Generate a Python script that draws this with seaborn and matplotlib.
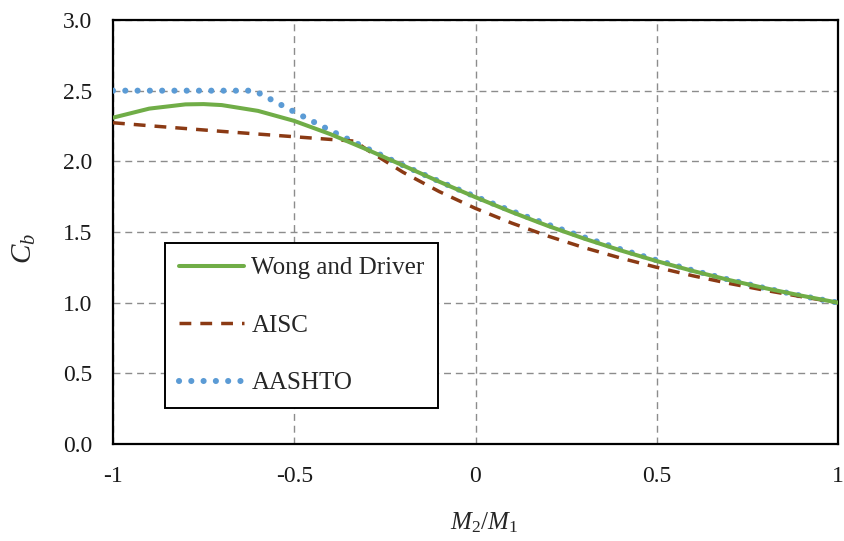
import matplotlib
matplotlib.use("Agg")
import matplotlib.pyplot as plt
import seaborn as sns
import pandas as pd

# Data
x_wong = [-1.0, -0.9, -0.8, -0.75, -0.7, -0.6, -0.5, -0.4, -0.3, -0.2, -0.1, 0.0,
          0.1, 0.2, 0.3, 0.4, 0.5, 0.6, 0.7, 0.8, 0.9, 1.0]
cb_wong = [2.309, 2.373, 2.403, 2.405, 2.398, 2.357, 2.286, 2.192, 2.084, 1.971, 1.856, 1.746,
           1.641, 1.543, 1.453, 1.370, 1.294, 1.224, 1.160, 1.102, 1.049, 1.000]

x_aisc = [-1.0, -0.9, -0.8, -0.7, -0.6, -0.5, -0.4, -0.333, -0.3, -0.2, -0.1, 0.0,
          0.1, 0.2, 0.3, 0.4, 0.5, 0.6, 0.7, 0.8, 0.9, 1.0]
cb_aisc = [2.273, 2.252, 2.232, 2.212, 2.193, 2.174, 2.155, 2.143, 2.083, 1.923, 1.786, 1.667,
           1.563, 1.471, 1.389, 1.316, 1.250, 1.190, 1.136, 1.087, 1.042, 1.000]

x_aashto = [-1.0, -0.9, -0.8, -0.7, -0.61, -0.5, -0.4, -0.3, -0.2, -0.1, 0.0,
            0.1, 0.2, 0.3, 0.4, 0.5, 0.6, 0.7, 0.8, 0.9, 1.0]
cb_aashto = [2.5, 2.5, 2.5, 2.5, 2.5, 2.35, 2.218, 2.092, 1.972, 1.858, 1.75,
             1.648, 1.552, 1.462, 1.378, 1.30, 1.228, 1.162, 1.102, 1.048, 1.0]

x_ticks = [-1, -0.5, 0, 0.5, 1]
x_ticklabels = ["-1", "-0.5", "0", "0.5", "1"]
y_ticks = [0.0, 0.5, 1.0, 1.5, 2.0, 2.5, 3.0]

sns.set_theme(style="white")
plt.rcParams['font.family'] = ['Liberation Serif', 'DejaVu Serif']
plt.rcParams['mathtext.fontset'] = 'custom'
plt.rcParams['mathtext.it'] = 'Liberation Serif:italic'
plt.rcParams['mathtext.rm'] = 'Liberation Serif'

fig = plt.figure(figsize=(8.44, 5.41), dpi=100)
ax = fig.add_axes([113 / 844, 1 - 444 / 541, (838 - 113) / 844, (444 - 20) / 541])

green = "#70AD47"
brown = "#8B3A14"
blue = "#5B9BD5"

df_w = pd.DataFrame({"x": x_wong, "y": cb_wong})
df_a = pd.DataFrame({"x": x_aisc, "y": cb_aisc})
df_h = pd.DataFrame({"x": x_aashto, "y": cb_aashto})

sns.lineplot(data=df_h, x="x", y="y", ax=ax, color=blue, lw=4.4, label="AASHTO",
             linestyle=(0, (0.01, 2.0)), dash_capstyle="round", zorder=3)
sns.lineplot(data=df_a, x="x", y="y", ax=ax, color=brown, lw=2.5, label="AISC",
             linestyle=(0, (3.4, 2.6)), zorder=4)
sns.lineplot(data=df_w, x="x", y="y", ax=ax, color=green, lw=2.9,
             label="Wong and Driver", zorder=5)

ax.set_xlim(-1, 1)
ax.set_ylim(0, 3)
ax.set_xticks(x_ticks)
ax.set_xticklabels(x_ticklabels)
ax.set_yticks(y_ticks)
ax.set_yticklabels([f"{v:.1f}" for v in y_ticks])
ax.tick_params(axis="both", length=0, labelsize=17, colors="#1a1a1a")
ax.tick_params(axis="x", pad=16)
ax.tick_params(axis="y", pad=15)

ax.grid(True, color="#8c8c8c", linestyle=(0, (5, 3.5)), linewidth=1.0)
for s in ax.spines.values():
    s.set_visible(True)
    s.set_color("black")
    s.set_linewidth(1.6)

ax.set_xlabel(r"$M_2/M_1$", fontsize=18)
ax.xaxis.set_label_coords((484 - 113) / (838 - 113), -(523 - 444) / (444 - 20))
ax.xaxis.label.set_verticalalignment("center")
ax.set_ylabel(r"$C_b$", fontsize=21)
ax.yaxis.set_label_coords(-(113 - 24) / (838 - 113), (444 - 248) / (444 - 20))
ax.yaxis.label.set_verticalalignment("center")

handles, labels = ax.get_legend_handles_labels()
order = [2, 1, 0]
leg = ax.legend([handles[i] for i in order], [labels[i] for i in order],
                loc="upper left", bbox_to_anchor=(165 / 844, 1 - 243 / 541),
                bbox_transform=fig.transFigure, fontsize=18, frameon=True,
                fancybox=False, edgecolor="black", framealpha=1,
                handlelength=2.6, handletextpad=0.3, labelspacing=1.4,
                borderpad=0.55, borderaxespad=0)
leg.get_frame().set_linewidth(1.4)

fig.savefig("out.png", dpi=100)
